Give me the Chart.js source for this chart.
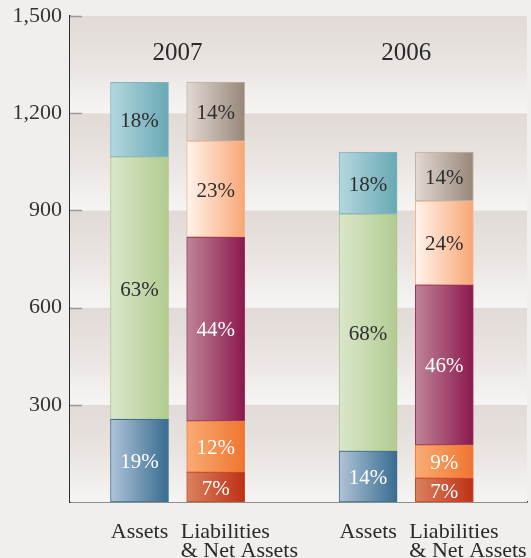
<!DOCTYPE html>
<html>
<head>
<meta charset="utf-8">
<script src="https://cdn.jsdelivr.net/npm/chart.js@4.4.1/dist/chart.umd.min.js"></script>
<style>
    body { margin: 0; background: #f0efed; }
    canvas { display: block; }
</style>
</head>
<body>
<canvas id="balanceChart" width="531" height="558"></canvas>
<script>
const years = ["2007", "2006"];
const barNames = ["Assets", "Liabilities", "Assets", "Liabilities"];
const barSubNames = ["", "& Net Assets", "", "& Net Assets"];
const barSlots = [0, 1, 3, 4];
const yTicks = [0, 300, 600, 900, 1200, 1500];

// values per year: [2007, 2006]
const assetBottom = [255, 157];
const assetMiddle = [810, 732];
const assetTop = [230, 191];
const assetBottomPct = [19, 14];
const assetMiddlePct = [63, 68];
const assetTopPct = [18, 18];

const liabRed = [92, 74];
const liabOrange = [158, 102];
const liabMaroon = [568, 494];
const liabPeach = [296, 259];
const liabTaupe = [182, 151];
const liabRedPct = [7, 7];
const liabOrangePct = [12, 9];
const liabMaroonPct = [44, 46];
const liabPeachPct = [23, 24];
const liabTaupePct = [14, 14];

const SERIF = "'Liberation Serif', 'DejaVu Serif', serif";
const BAR_W = 58;

function gradientFill(light, dark) {
    return (context) => {
        const chart = context.chart;
        const raw = context.raw;
        if (!chart.chartArea || !raw) {
            return dark;
        }
        const cx = chart.scales.x.getPixelForValue(raw.x);
        const g = chart.ctx.createLinearGradient(cx - BAR_W / 2, 0, cx + BAR_W / 2, 0);
        g.addColorStop(0, light);
        g.addColorStop(1, dark);
        return g;
    };
}

function makeSet(values, pcts, slots, light, dark, border, textColor) {
    return {
        data: values.map((v, i) => ({ x: barSlots[slots[i]], y: v })),
        pcts: pcts,
        textColor: textColor,
        backgroundColor: gradientFill(light, dark),
        borderColor: border,
        borderWidth: 1,
        borderSkipped: false,
        barThickness: BAR_W
    };
}

const assetSlots = [0, 2];
const liabSlots = [1, 3];

const datasets = [
    makeSet(assetBottom, assetBottomPct, assetSlots, "#afc4d9", "#376c8f", "#3f6f90", "#ffffff"),
    makeSet(assetMiddle, assetMiddlePct, assetSlots, "#dae7cb", "#b1cb90", "#a9c58b", "#2e2e2e"),
    makeSet(assetTop, assetTopPct, assetSlots, "#b5d7de", "#68a9b5", "#7db5bf", "#2e2e2e"),
    makeSet(liabRed, liabRedPct, liabSlots, "#d9825f", "#bf3015", "#c9482c", "#ffffff"),
    makeSet(liabOrange, liabOrangePct, liabSlots, "#f9ac74", "#f07530", "#ec7d43", "#ffffff"),
    makeSet(liabMaroon, liabMaroonPct, liabSlots, "#bf8598", "#8b184d", "#97335d", "#ffffff"),
    makeSet(liabPeach, liabPeachPct, liabSlots, "#fff4ec", "#f8a675", "#f5b48c", "#2e2e2e"),
    makeSet(liabTaupe, liabTaupePct, liabSlots, "#e3d9d3", "#978779", "#c0b2a8", "#2e2e2e")
];

const decorPlugin = {
    id: "decor",
    beforeDatasetsDraw(chart) {
        const { ctx, chartArea, scales } = chart;
        const y = scales.y;
        ctx.save();
        for (let i = 0; i < yTicks.length - 1; i++) {
            const top = y.getPixelForValue(yTicks[i + 1]);
            const bottom = y.getPixelForValue(yTicks[i]);
            const g = ctx.createLinearGradient(0, top, 0, bottom);
            g.addColorStop(0, "#e1dad6");
            g.addColorStop(0.55, "#ebe6e3");
            g.addColorStop(1, "#f6f5f3");
            ctx.fillStyle = g;
            ctx.fillRect(chartArea.left, top, chartArea.right - chartArea.left, bottom - top);
        }
        // tick marks on the inside of the axis
        ctx.strokeStyle = "#9a9a9a";
        ctx.lineWidth = 1.5;
        yTicks.slice(1).forEach((v) => {
            const py = Math.round(y.getPixelForValue(v)) + 0.5;
            ctx.beginPath();
            ctx.moveTo(chartArea.left, py);
            ctx.lineTo(chartArea.left + 12, py);
            ctx.stroke();
        });
        ctx.restore();
    },
    afterDatasetsDraw(chart) {
        const { ctx, chartArea, scales } = chart;
        ctx.save();
        ctx.textBaseline = "middle";
        ctx.textAlign = "center";
        ctx.font = "21px " + SERIF;
        chart.data.datasets.forEach((ds, di) => {
            chart.getDatasetMeta(di).data.forEach((bar, i) => {
                ctx.fillStyle = ds.textColor;
                ctx.fillText(ds.pcts[i] + "%", bar.x, (bar.y + bar.base) / 2 + 2);
            });
        });

        // year headings
        ctx.fillStyle = "#2a2a2a";
        ctx.textBaseline = "alphabetic";
        ctx.font = "25px " + SERIF;
        years.forEach((yr, i) => {
            const a = scales.x.getPixelForValue(barSlots[i * 2]);
            const b = scales.x.getPixelForValue(barSlots[i * 2 + 1]);
            ctx.fillText(yr, (a + b) / 2, chartArea.top + 44);
        });

        // category labels under the bars
        ctx.font = "22px " + SERIF;
        barNames.forEach((name, i) => {
            const cx = scales.x.getPixelForValue(barSlots[i]);
            const baseY = chartArea.bottom + 36;
            if (barSubNames[i]) {
                ctx.textAlign = "left";
                ctx.fillText(name, cx - 35, baseY);
                ctx.fillText(barSubNames[i], cx - 35, baseY + 19);
            } else {
                ctx.textAlign = "center";
                ctx.fillText(name, cx, baseY);
            }
        });
        ctx.restore();
    }
};

new Chart(document.getElementById("balanceChart"), {
    type: "bar",
    data: { datasets: datasets },
    options: {
        responsive: false,
        animation: false,
        layout: { padding: { top: 16, right: 4, left: 0, bottom: 0 } },
        plugins: {
            legend: { display: false },
            tooltip: { enabled: false }
        },
        scales: {
            x: {
                type: "linear",
                stacked: true,
                offset: false,
                min: -0.912,
                max: 5.085,
                grid: { display: false, drawTicks: false },
                border: { display: true, color: "#2d2d2d", width: 1.5 },
                ticks: { display: false },
                afterFit(scale) {
                    scale.height = 56;
                    scale.paddingLeft = 0;
                    scale.paddingRight = 0;
                }
            },
            y: {
                stacked: true,
                min: 0,
                max: 1500,
                afterBuildTicks(scale) {
                    scale.ticks = yTicks.map((v) => ({ value: v }));
                },
                grid: { display: false, drawTicks: false },
                border: { display: true, color: "#2d2d2d", width: 1.5 },
                ticks: {
                    padding: 8,
                    color: "#333333",
                    font: { family: SERIF, size: 22 },
                    callback: (v) => (v === 0 ? "" : v.toLocaleString("en-US"))
                },
                afterFit(scale) {
                    scale.width = 70;
                    scale.paddingTop = 0;
                    scale.paddingBottom = 0;
                }
            }
        }
    },
    plugins: [decorPlugin]
});
</script>
</body>
</html>
